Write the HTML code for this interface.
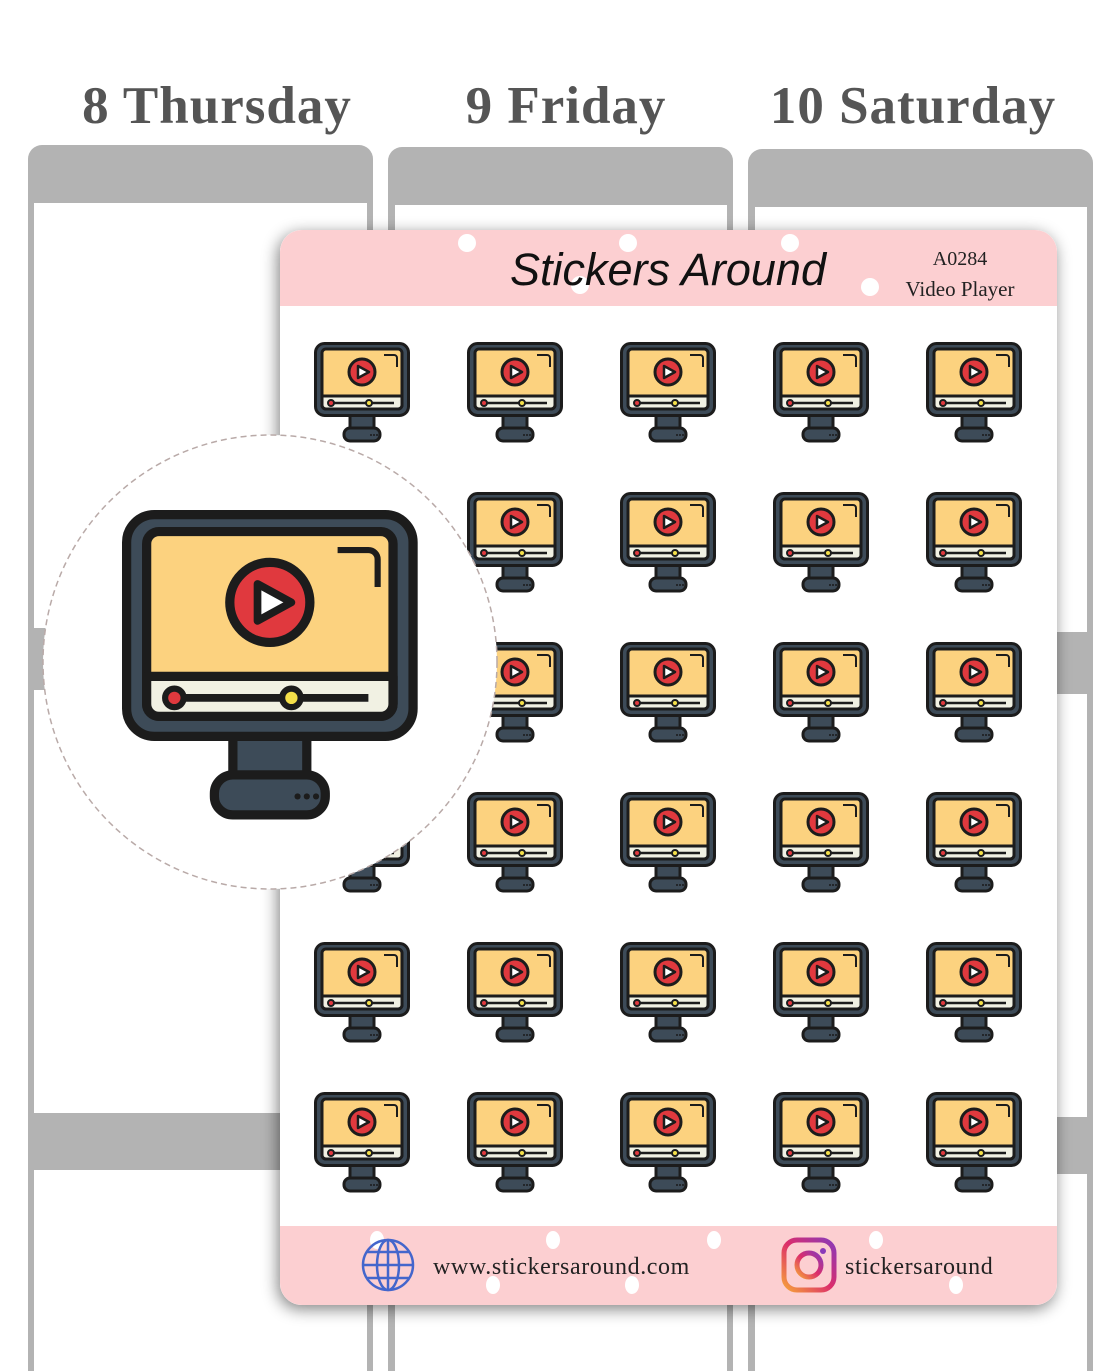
<!DOCTYPE html>
<html><head><meta charset="utf-8"><style>
html,body{margin:0;padding:0;background:#fff;}
body{width:1099px;height:1371px;position:relative;overflow:hidden;font-family:"Liberation Serif",serif;}
.t{position:absolute;top:76px;font-weight:bold;font-size:53px;color:#555;white-space:nowrap;transform:translateX(-50%);letter-spacing:1px}
</style></head><body>
<div class="t" style="left:217px">8 Thursday</div>
<div class="t" style="left:566px">9 Friday</div>
<div class="t" style="left:913px">10 Saturday</div>
<svg width="1099" height="1371" style="position:absolute;left:0;top:0">
<defs>
<filter id="sh" x="-10%" y="-10%" width="120%" height="120%"><feGaussianBlur in="SourceAlpha" stdDeviation="8"/><feOffset dx="-2" dy="4"/><feComponentTransfer><feFuncA type="linear" slope="0.5"/></feComponentTransfer><feMerge><feMergeNode/><feMergeNode in="SourceGraphic"/></feMerge></filter>
<g id="ic" stroke="#1c1c1c" stroke-width="3" stroke-linejoin="round">
<rect x="36" y="72" width="24" height="16" fill="#3d4b58"/>
<rect x="30" y="86" width="36" height="13" rx="6" fill="#3d4b58"/>
<rect x="1.5" y="1.5" width="93" height="72" rx="9" fill="#3d4b58"/>
<rect x="8" y="7" width="80" height="60" rx="4" fill="#fcd27f"/>
<path d="M8 54 H88 V63 a4 4 0 0 1 -4 4 H12 a4 4 0 0 1 -4 -4Z" fill="#f1f1e3"/>
<circle cx="48" cy="30" r="13" fill="#e0393e"/>
<path d="M44 24 L55 30 L44 36Z" fill="#fff" stroke-width="2.5"/>
<line x1="16" y1="61" x2="80" y2="61" stroke-width="2.5"/>
<circle cx="17" cy="61" r="3" fill="#e0393e" stroke-width="2"/>
<circle cx="55" cy="61" r="3" fill="#f5e04a" stroke-width="2"/>
<path d="M70 13 H80 a3 3 0 0 1 3 3 V25" fill="none" stroke-width="2"/>
<g fill="#1c1c1c" stroke="none"><circle cx="57" cy="93" r="1"/><circle cx="60" cy="93" r="1"/><circle cx="63" cy="93" r="1"/></g>
</g>
</defs>
<g fill="#b3b3b3">
<rect x="28" y="145" width="345" height="1240" rx="14"/>
<rect x="388" y="147" width="345" height="1240" rx="14"/>
<rect x="748" y="149" width="345" height="1240" rx="14"/>
</g>
<g fill="#fff">
<rect x="34" y="203" width="333" height="425"/><rect x="34" y="690" width="333" height="423"/><rect x="34" y="1170" width="333" height="220"/>
<rect x="395" y="205" width="332" height="425"/><rect x="395" y="692" width="332" height="423"/><rect x="395" y="1172" width="332" height="220"/>
<rect x="755" y="207" width="332" height="425"/><rect x="755" y="694" width="332" height="423"/><rect x="755" y="1174" width="332" height="220"/>
</g>
<g filter="url(#sh)">
<rect x="280" y="230" width="777" height="1075" rx="22" fill="#fff"/>
</g>
<path d="M302 230 H1035 a22 22 0 0 1 22 22 V306 H280 V252 a22 22 0 0 1 22 -22Z" fill="#fccfd1"/>
<path d="M280 1226 H1057 V1283 a22 22 0 0 1 -22 22 H302 a22 22 0 0 1 -22 -22Z" fill="#fccfd1"/>
<g fill="#fff">
<ellipse cx="467" cy="243" rx="9" ry="9"/><ellipse cx="628" cy="243" rx="9" ry="9"/><ellipse cx="790" cy="243" rx="9" ry="9"/><ellipse cx="870" cy="287" rx="9" ry="9"/><ellipse cx="580" cy="285" rx="9" ry="9"/>
<ellipse cx="377" cy="1240" rx="7" ry="9"/><ellipse cx="493" cy="1285" rx="7" ry="9"/><ellipse cx="553" cy="1240" rx="7" ry="9"/><ellipse cx="632" cy="1285" rx="7" ry="9"/><ellipse cx="714" cy="1240" rx="7" ry="9"/><ellipse cx="876" cy="1240" rx="7" ry="9"/><ellipse cx="956" cy="1285" rx="7" ry="9"/>
</g>
<text x="668" y="285" text-anchor="middle" font-family="Liberation Sans,sans-serif" font-style="italic" font-size="45" fill="#111">Stickers Around</text>
<text x="960" y="265" text-anchor="middle" font-family="Liberation Serif,serif" font-size="20" fill="#222">A0284</text>
<text x="960" y="296" text-anchor="middle" font-family="Liberation Serif,serif" font-size="21" fill="#222">Video Player</text>
<g fill="none" stroke="#4466cc" stroke-width="2.5"><circle cx="388" cy="1265" r="25"/><ellipse cx="388" cy="1265" rx="11" ry="25"/><line x1="388" y1="1240" x2="388" y2="1290"/><line x1="363" y1="1265" x2="413" y2="1265"/><path d="M367 1252 H409 M367 1278 H409"/></g>
<text x="433" y="1274" font-size="24" letter-spacing="0.6" fill="#222">www.stickersaround.com</text>
<defs><linearGradient id="ig" x1="0" y1="1" x2="1" y2="0"><stop offset="0" stop-color="#f6a23a"/><stop offset="0.5" stop-color="#dc2d6b"/><stop offset="1" stop-color="#8a3ab9"/></linearGradient></defs>
<rect x="784" y="1240" width="50" height="50" rx="13" fill="none" stroke="url(#ig)" stroke-width="5"/>
<circle cx="809" cy="1265" r="12" fill="none" stroke="url(#ig)" stroke-width="5"/><circle cx="823" cy="1251" r="3" fill="#8a3ab9"/>
<text x="845" y="1274" font-size="24" letter-spacing="0.6" fill="#222">stickersaround</text>
<g>
<use href="#ic" x="314" y="342"/><use href="#ic" x="467" y="342"/><use href="#ic" x="620" y="342"/><use href="#ic" x="773" y="342"/><use href="#ic" x="926" y="342"/>
<use href="#ic" x="467" y="492"/><use href="#ic" x="620" y="492"/><use href="#ic" x="773" y="492"/><use href="#ic" x="926" y="492"/>
<use href="#ic" x="467" y="642"/><use href="#ic" x="620" y="642"/><use href="#ic" x="773" y="642"/><use href="#ic" x="926" y="642"/>
<use href="#ic" x="314" y="792"/><use href="#ic" x="467" y="792"/><use href="#ic" x="620" y="792"/><use href="#ic" x="773" y="792"/><use href="#ic" x="926" y="792"/>
<use href="#ic" x="314" y="942"/><use href="#ic" x="467" y="942"/><use href="#ic" x="620" y="942"/><use href="#ic" x="773" y="942"/><use href="#ic" x="926" y="942"/>
<use href="#ic" x="314" y="1092"/><use href="#ic" x="467" y="1092"/><use href="#ic" x="620" y="1092"/><use href="#ic" x="773" y="1092"/><use href="#ic" x="926" y="1092"/>
</g>
<circle cx="270" cy="662" r="227" fill="#fff" stroke="#b9aaa8" stroke-width="1.5" stroke-dasharray="6 4"/>
<use href="#ic" transform="translate(122 510) scale(3.08)"/>
</svg>
</body></html>
